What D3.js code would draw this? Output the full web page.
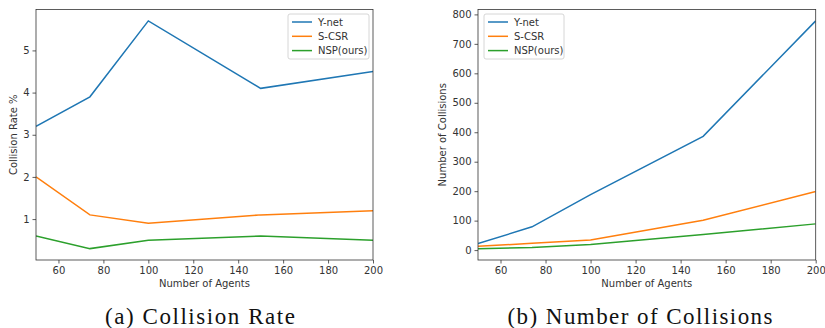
<!DOCTYPE html>
<html>
<head>
<meta charset="utf-8">
<script src="https://cdn.jsdelivr.net/npm/d3@7"></script>
<style>
  body { margin: 0; background: #fff; }
  svg { display: block; }
  .tick text { font-family: "DejaVu Sans", sans-serif; font-size: 10px; fill: #333; }
  .lbl { font-family: "DejaVu Sans", sans-serif; font-size: 10px; fill: #333; }
  .cap { font-family: "Liberation Serif", "DejaVu Serif", serif; font-size: 23px; fill: #111; }
</style>
</head>
<body>
<svg id="fig" width="825" height="328"></svg>
<script>
var agents = [50, 74, 100, 150, 200];
var series_names = ["Y-net", "S-CSR", "NSP(ours)"];
var colors = ["#1f77b4", "#ff7f0e", "#2ca02c"];

// (a) collision rate %
var rate_ynet = [3.2, 3.9, 5.7, 4.1, 4.5];
var rate_scsr = [2.0, 1.1, 0.9, 1.1, 1.2];
var rate_nsp = [0.6, 0.3, 0.5, 0.6, 0.5];

// (b) number of collisions
var count_ynet = [22, 79, 188, 386, 778];
var count_scsr = [13, 23, 34, 101, 199];
var count_nsp = [5, 9, 19, 53, 89];

var x_ticks = [60, 80, 100, 120, 140, 160, 180, 200];
var rate_ticks = [1, 2, 3, 4, 5];
var count_ticks = [0, 100, 200, 300, 400, 500, 600, 700, 800];

var svg = d3.select("#fig");

function drawPanel(opt) {
    var g = svg.append("g");
    var x = d3.scaleLinear().domain([50, 200]).range([opt.left, opt.right]);
    var y = d3.scaleLinear().domain(opt.ydomain).range([opt.bottom, opt.top]);

    var xAxis = g.append("g")
        .attr("transform", "translate(0," + opt.bottom + ")")
        .call(d3.axisBottom(x).tickValues(x_ticks).tickSize(3.5).tickPadding(3).tickFormat(d3.format("d")));
    var yAxis = g.append("g")
        .attr("transform", "translate(" + opt.left + ",0)")
        .call(d3.axisLeft(y).tickValues(opt.yticks).tickSize(3.5).tickPadding(3).tickFormat(d3.format("d")));
    [xAxis, yAxis].forEach(function(a) {
        a.select(".domain").remove();
        a.selectAll(".tick line").attr("stroke", "#333").attr("stroke-width", 0.8);
    });

    var line = d3.line()
        .x(function(d, i) { return x(agents[i]); })
        .y(function(d) { return y(d); });

    g.append("clipPath").attr("id", "clip" + opt.id)
        .append("rect")
        .attr("x", opt.left).attr("y", opt.top)
        .attr("width", opt.right - opt.left).attr("height", opt.bottom - opt.top);

    opt.data.forEach(function(vals, k) {
        g.append("path")
            .datum(vals)
            .attr("d", line)
            .attr("fill", "none")
            .attr("stroke", colors[k])
            .attr("stroke-width", 1.5)
            .attr("clip-path", "url(#clip" + opt.id + ")");
    });

    // frame
    g.append("rect")
        .attr("x", opt.left).attr("y", opt.top)
        .attr("width", opt.right - opt.left).attr("height", opt.bottom - opt.top)
        .attr("fill", "none").attr("stroke", "#333").attr("stroke-width", 0.8);

    // legend
    var lg = g.append("g").attr("transform", "translate(" + opt.legX + "," + opt.legY + ")");
    lg.append("rect")
        .attr("width", opt.legW).attr("height", 45).attr("rx", 2)
        .attr("fill", "#fff").attr("fill-opacity", 0.8)
        .attr("stroke", "#ccc").attr("stroke-width", 0.8);
    series_names.forEach(function(name, k) {
        var yy = 8 + k * 14.3;
        lg.append("line")
            .attr("x1", 4).attr("x2", 24).attr("y1", yy).attr("y2", yy)
            .attr("stroke", colors[k]).attr("stroke-width", 1.5);
        lg.append("text").attr("class", "lbl")
            .attr("x", 30).attr("y", yy).attr("dy", "0.35em")
            .text(name);
    });

    g.append("text").attr("class", "lbl")
        .attr("x", (opt.left + opt.right) / 2).attr("y", 287)
        .attr("text-anchor", "middle")
        .text("Number of Agents");
    g.append("text").attr("class", "lbl")
        .attr("transform", "translate(" + opt.ylabX + "," + ((opt.top + opt.bottom) / 2) + ") rotate(-90)")
        .attr("text-anchor", "middle")
        .text(opt.ylabel);

    g.append("text").attr("class", "cap")
        .attr("x", opt.capX).attr("y", 324)
        .attr("text-anchor", "middle")
        .attr("textLength", opt.capW)
        .attr("lengthAdjust", "spacing")
        .text(opt.caption);
}

drawPanel({
    id: "a", left: 36, right: 373, top: 9.5, bottom: 260,
    ydomain: [0.03, 5.97], yticks: rate_ticks,
    data: [rate_ynet, rate_scsr, rate_nsp],
    legX: 288, legY: 14, legW: 81,
    ylabX: 17, ylabel: "Collision Rate %",
    capX: 200, capW: 190, caption: "(a) Collision Rate"
});

drawPanel({
    id: "b", left: 478, right: 815.7, top: 9.5, bottom: 260,
    ydomain: [-33.6, 816.6], yticks: count_ticks,
    data: [count_ynet, count_scsr, count_nsp],
    legX: 484, legY: 14, legW: 80,
    ylabX: 446, ylabel: "Number of Collisions",
    capX: 640, capW: 265, caption: "(b) Number of Collisions"
});
</script>
</body>
</html>
